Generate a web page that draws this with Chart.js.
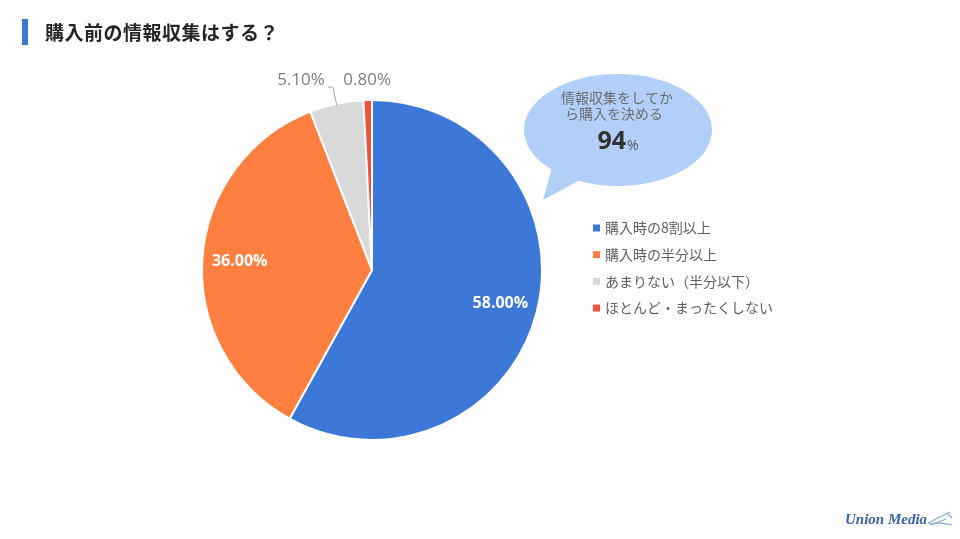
<!DOCTYPE html>
<html lang="ja">
<head>
<meta charset="UTF-8">
<title>購入前の情報収集はする？</title>
<script src="https://cdn.jsdelivr.net/npm/chart.js"></script>
<style>
  body { margin: 0; background: #fff; font-family: "Noto Sans CJK JP", "Noto Sans", sans-serif; }
  .page { position: relative; width: 960px; height: 539px; overflow: hidden; }
  .chart-box { position: absolute; left: 0; top: 0; width: 960px; height: 539px; }
  .title-bar { position: absolute; left: 22px; top: 19px; width: 6px; height: 26px; background: #3c78d8; }
  .title { position: absolute; left: 45px; top: 19px; font-size: 19px; font-weight: bold; color: #262626; line-height: 26px; letter-spacing: 0.5px; }
  .logo { position: absolute; left: 845px; top: 511px; font-family: "Liberation Serif", serif; font-style: italic; font-weight: bold; font-size: 15px; color: #3563ad; white-space: nowrap; }
  .logo svg { position: absolute; left: 81px; top: -1px; }
</style>
</head>
<body>
<div class="page">
  <div class="chart-box"><canvas id="pie"></canvas></div>
  <div class="title-bar"></div>
  <div class="title">購入前の情報収集はする？</div>
  <div class="logo">Union Media<svg width="28" height="20" viewBox="0 0 28 20"><path d="M2 13 L12 8 L24 2 M5 15 L20 9 M3 14 Q14 12 26 15 M22 4 L26 8" stroke="#86a8dc" stroke-width="1.2" fill="none"/></svg></div>
</div>

<script>
  // chart data
  const categories = ['購入時の8割以上', '購入時の半分以上', 'あまりない（半分以下）', 'ほとんど・まったくしない'];
  const shares = [58.0, 36.0, 5.1, 0.8];
  const sliceColors = ['#3c78d8', '#ff7f41', '#d9d9d9', '#f4513d'];
  const bubbleLines = ['情報収集をしてか', 'ら購入を決める'];
  const bubbleValue = '94';

  const CJK = '"Noto Sans CJK JP", "Noto Sans", sans-serif';
  const LAT = '"Open Sans", "Noto Sans", sans-serif';

  // slice labels: inside (white bold) for big slices, outside (gray) for small ones
  const sliceLabels = {
    id: 'sliceLabels',
    afterDatasetsDraw(chart) {
      const ctx = chart.ctx;
      const meta = chart.getDatasetMeta(0);
      ctx.save();
      meta.data.forEach((arc, i) => {
        const { x, y, startAngle, endAngle, outerRadius } = arc.getProps(['x', 'y', 'startAngle', 'endAngle', 'outerRadius'], true);
        const mid = (startAngle + endAngle) / 2;
        const text = shares[i].toFixed(2) + '%';
        if (shares[i] > 10) {
          const r = outerRadius * 0.78;
          ctx.font = 'bold 16px ' + LAT;
          ctx.fillStyle = '#ffffff';
          ctx.textAlign = 'center';
          ctx.textBaseline = 'middle';
          ctx.fillText(text, x + Math.cos(mid) * r, y + Math.sin(mid) * r);
        } else if (i === 2) {
          const ax = x + Math.cos(mid) * (outerRadius - 2);
          const ay = y + Math.sin(mid) * (outerRadius - 2);
          const ex = x + Math.cos(mid) * (outerRadius * 1.1);
          const ey = y + Math.sin(mid) * (outerRadius * 1.1);
          ctx.strokeStyle = '#a6a6a6';
          ctx.lineWidth = 1;
          ctx.beginPath();
          ctx.moveTo(ax, ay);
          ctx.lineTo(ex, ey);
          ctx.lineTo(ex - 5, ey);
          ctx.stroke();
          ctx.font = '17px ' + LAT;
          ctx.fillStyle = '#7f7f7f';
          ctx.textAlign = 'right';
          ctx.textBaseline = 'middle';
          ctx.fillText(text, ex - 8, ey - 7);
        } else {
          const r = outerRadius * 1.12;
          ctx.font = '17px ' + LAT;
          ctx.fillStyle = '#7f7f7f';
          ctx.textAlign = 'center';
          ctx.textBaseline = 'middle';
          ctx.fillText(text, x + Math.cos(mid) * r, y + Math.sin(mid) * r);
        }
      });
      ctx.restore();
    }
  };

  // legend on the right and the speech bubble
  const extras = {
    id: 'extras',
    afterDraw(chart) {
      const ctx = chart.ctx;
      ctx.save();
      // legend
      chart.data.labels.forEach((lab, i) => {
        const y = 228 + i * 26.7;
        ctx.fillStyle = chart.data.datasets[0].backgroundColor[i];
        ctx.fillRect(593, y - 3.5, 7, 7);
        ctx.font = '14px ' + CJK;
        ctx.fillStyle = '#5f5f5f';
        ctx.textAlign = 'left';
        ctx.textBaseline = 'middle';
        ctx.fillText(lab, 605, y);
      });
      // bubble
      ctx.fillStyle = '#b1cff9';
      ctx.beginPath();
      ctx.ellipse(618, 130, 94, 56, 0, 0, Math.PI * 2);
      ctx.fill();
      ctx.beginPath();
      ctx.moveTo(552, 168);
      ctx.lineTo(543, 200);
      ctx.lineTo(580, 180);
      ctx.closePath();
      ctx.fill();
      ctx.fillStyle = '#6e6e6e';
      ctx.font = '14px ' + CJK;
      ctx.textAlign = 'center';
      ctx.textBaseline = 'middle';
      ctx.fillText(bubbleLines[0], 617, 98);
      ctx.fillText(bubbleLines[1], 614, 114);
      ctx.fillStyle = '#333333';
      ctx.font = 'bold 25px ' + LAT;
      ctx.textAlign = 'right';
      ctx.fillText(bubbleValue, 626, 142);
      ctx.font = '14px ' + LAT;
      ctx.fillStyle = '#555555';
      ctx.textAlign = 'left';
      ctx.fillText('%', 627, 146);
      ctx.restore();
    }
  };

  new Chart(document.getElementById('pie'), {
    type: 'pie',
    data: {
      labels: categories,
      datasets: [{
        data: shares,
        backgroundColor: sliceColors,
        borderColor: '#ffffff',
        borderWidth: 2
      }]
    },
    options: {
      responsive: true,
      maintainAspectRatio: false,
      animation: false,
      radius: 170,
      layout: { padding: { left: 100, right: 316, top: 90, bottom: 89 } },
      plugins: {
        legend: { display: false },
        tooltip: { enabled: false }
      }
    },
    plugins: [sliceLabels, extras]
  });
</script>
</body>
</html>
